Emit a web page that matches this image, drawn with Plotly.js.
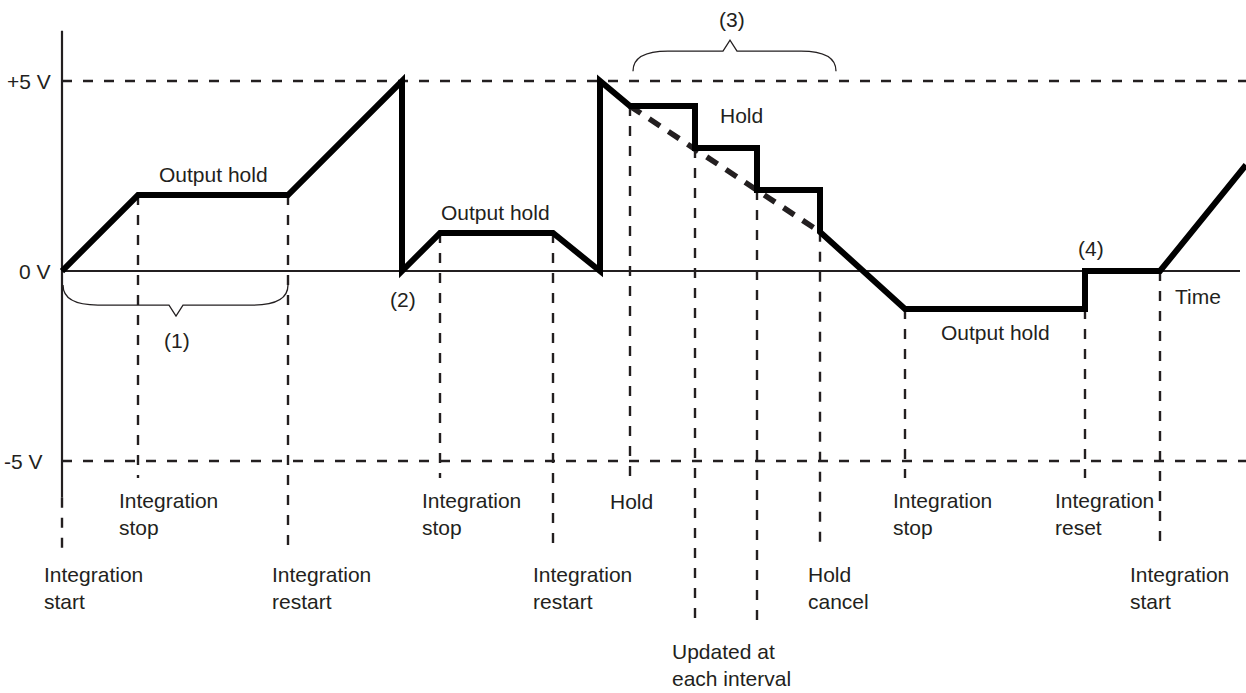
<!DOCTYPE html>
<html>
<head>
<meta charset="utf-8">
<script src="https://cdn.plot.ly/plotly-3.0.1.min.js"></script>
<style>
  html, body { margin: 0; padding: 0; background: #fff; }
  #chart { width: 1246px; height: 693px; }
  path.js-line { stroke-linejoin: miter !important; stroke-miterlimit: 6 !important; }
</style>
</head>
<body>
<div id="chart"></div>
<script>
// time axis is in arbitrary units, voltage in volts
const waveT = [62, 138, 288, 402, 402, 440, 553, 600, 600, 630, 695, 695, 757, 757, 820, 820, 905, 1085, 1085, 1160, 1246];
const waveV = [0, 2.0, 2.0, 5.0, 0, 1.0, 1.0, 0, 5.0, 4.34, 4.34, 3.24, 3.24, 2.13, 2.13, 1.03, -1.0, -1.0, 0, 0, 2.79];

// ideal (un-held) ramp during hold period
const rampT = [630, 820];
const rampV = [4.34, 1.03];

// event markers: time, top of dashed line, bottom of dashed line
const markT      = [138, 288, 440, 553, 630, 695, 757, 820, 905, 1085, 1160];
const markTop    = [2.0, 2.0, 1.0, 1.0, 4.34, 3.24, 2.13, 1.03, -1.0, -1.0, 0];
const markBottom = [-5.45, -7.39, -5.45, -7.39, -5.45, -9.37, -9.37, -7.39, -5.45, -5.45, -7.26];

const levelV = [5, 0, -5];
const levelLabels = ['+5 V', '0 V', '-5 V'];

// event labels under the chart
const eventText = ['Integration<br>start', 'Integration<br>stop', 'Integration<br>restart',
  'Integration<br>stop', 'Integration<br>restart', 'Hold', 'Updated at<br>each interval',
  'Hold<br>cancel', 'Integration<br>stop', 'Integration<br>reset', 'Integration<br>start'];
const eventX = [42, 117, 270, 420, 531, 608, 670, 806, 891, 1053, 1128];
const eventV = [-8.35, -6.4, -8.35, -6.4, -8.35, -6.06, -10.38, -8.35, -6.4, -6.4, -8.35];

const ink = '#231f20';
const pxV = 1 / 38; // volts per screen pixel

let traces = [];

// +5 V / -5 V reference lines
for (let v of [5, -5]) {
    traces.push({
        x: [62, 1246], y: [v, v], mode: 'lines',
        line: { color: ink, width: 2.4, dash: '10px,11px' }, hoverinfo: 'skip'
    });
}

// event marker dashed lines
let mx = [], my = [];
for (let i = 0; i < markT.length; ++i) {
    mx.push(markT[i], markT[i], null);
    my.push(markTop[i], markBottom[i], null);
}
mx.push(62, 62, null);
my.push(-5.97, -7.47, null);
traces.push({
    x: mx, y: my, mode: 'lines',
    line: { color: ink, width: 2.4, dash: '10px,10px' }, hoverinfo: 'skip'
});

// axes
traces.push({
    x: [62, 62], y: [6.32, -5.97], mode: 'lines',
    line: { color: ink, width: 2.2 }, hoverinfo: 'skip'
});
traces.push({
    x: [61, 1240], y: [0, 0], mode: 'lines',
    line: { color: ink, width: 2.2 }, hoverinfo: 'skip'
});

// ideal ramp
traces.push({
    x: rampT, y: rampV, mode: 'lines',
    line: { color: ink, width: 5.5, dash: '13px,10px' }, hoverinfo: 'skip'
});

// output waveform
traces.push({
    x: waveT, y: waveV, mode: 'lines',
    line: { color: '#000', width: 6 }, hoverinfo: 'skip'
});

// curly braces
function brace(x0, x1, xt, yEnd, dir) {
    let ym = yEnd + dir * 20 * pxV;
    let yt = ym + dir * 11 * pxV;
    let rx = 35;
    return {
        type: 'path', xref: 'x', yref: 'y',
        path: `M ${x0},${yEnd} Q ${x0},${ym} ${x0 + rx},${ym} L ${xt - 7},${ym} L ${xt},${yt} ` +
              `L ${xt + 7},${ym} L ${x1 - rx},${ym} Q ${x1},${ym} ${x1},${yEnd}`,
        line: { color: ink, width: 1.3 }
    };
}

const shapes = [
    brace(63, 288, 176, -0.37, -1),
    brace(633, 836, 730, 5.26, 1)
];

const font = { family: 'Arial, "Liberation Sans", sans-serif', size: 21, color: ink };

let annotations = [];
for (let i = 0; i < levelV.length; ++i) {
    annotations.push({
        x: i === 2 ? 45 : 53, y: levelV[i], xref: 'x', yref: 'y', text: levelLabels[i],
        showarrow: false, xanchor: 'right', yanchor: 'middle', font
    });
}
for (let i = 0; i < eventText.length; ++i) {
    annotations.push({
        x: eventX[i], y: eventV[i], xref: 'x', yref: 'y', text: eventText[i],
        showarrow: false, xanchor: 'left', yanchor: 'middle', align: 'left', font
    });
}
const notes = [
    ['Output hold', 213, 2.55], ['(1)', 177, -1.82], ['(2)', 403, -0.76],
    ['Output hold', 495, 1.55], ['(3)', 732, 6.61], ['Hold', 741, 4.08],
    ['(4)', 1091, 0.58], ['Time', 1198, -0.68], ['Output hold', 995, -1.63]
];
for (let n of notes) {
    annotations.push({
        x: n[1], y: n[2], xref: 'x', yref: 'y', text: n[0],
        showarrow: false, xanchor: 'center', yanchor: 'middle', font
    });
}

const layout = {
    width: 1246, height: 693,
    margin: { l: 0, r: 0, t: 0, b: 0 },
    paper_bgcolor: '#fff', plot_bgcolor: '#fff',
    showlegend: false,
    xaxis: { range: [0, 1246], visible: false, fixedrange: true },
    yaxis: { range: [-11.105, 7.132], visible: false, fixedrange: true },
    shapes, annotations
};

Plotly.newPlot('chart', traces, layout, { staticPlot: true });
</script>
</body>
</html>
